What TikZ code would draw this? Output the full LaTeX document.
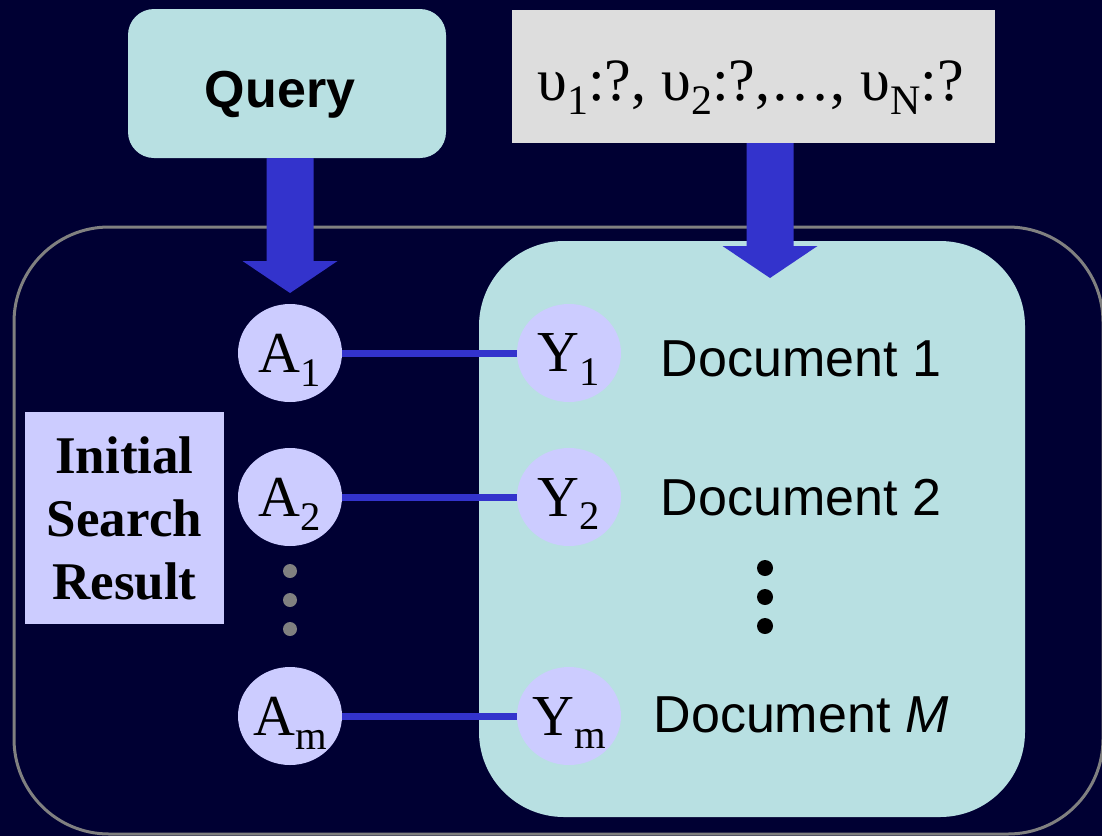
\documentclass[tikz,border=0pt]{standalone}
\usepackage{fontspec}
\setmainfont{Liberation Serif}
\setsansfont{Liberation Sans}
\usetikzlibrary{shapes.geometric,calc}

\definecolor{navy}{RGB}{0,0,51}
\definecolor{paleteal}{RGB}{184,224,226}
\definecolor{lavender}{RGB}{204,204,255}
\definecolor{linkblue}{RGB}{51,51,204}
\definecolor{boxgray}{RGB}{221,221,221}
\definecolor{rimgray}{RGB}{128,128,128}

% lowered, shrunk index
\newcommand{\lsub}[1]{\raisebox{-0.24em}[0pt][0pt]{\scalebox{0.7}{#1}}}
% wide block arrow straight down from #1 to the tip #2
\newcommand{\fatarrow}[2]{%
  \fill[linkblue] let \p1=(#1), \p2=(#2) in
    (\x2-23.5pt,\y1) -- (\x2+23.5pt,\y1) -- (\x2+23.5pt,\y2+32pt) -- (\x2+47.5pt,\y2+32pt)
    -- (\x2,\y2) -- (\x2-47.5pt,\y2+32pt) -- (\x2-23.5pt,\y2+32pt) -- cycle;}

\begin{document}
\begin{tikzpicture}[x=1pt,y=-1pt,
  blob/.style={ellipse,fill=lavender,minimum width=104pt,minimum height=98pt,inner sep=0pt,
    font=\fontsize{58}{58}\selectfont},
  doclabel/.style={anchor=base,font=\sffamily\fontsize{52}{52}\selectfont},
  wire/.style={linkblue,line width=7pt}]
  \useasboundingbox (0,0) rectangle (1102,836);
  \fill[navy] (0,0) rectangle (1102,836);
  \draw[rimgray,line width=3pt,rounded corners=95pt] (14,227) rectangle (1103,834);
  \fill[paleteal,rounded corners=85pt] (479,241) rectangle (1025,817);

  \node[fill=boxgray,minimum width=483pt,minimum height=133pt,text height=47pt,text depth=0pt,
    font=\fontsize{60}{60}\selectfont] (unknowns) at (753.5,76.5)
    {υ\lsub{1}:?, υ\lsub{2}:?,…, υ\lsub{N}:?\hspace*{6pt}};
  \node[fill=paleteal,rounded corners=26pt,minimum width=318pt,minimum height=149pt,
    text height=47pt,text depth=0pt,font=\sffamily\bfseries\fontsize{52}{52}\selectfont]
    (query) at (287,83.5) {Query\hspace*{14pt}};

  \coordinate (qtip) at (290,293);
  \coordinate (utip) at (770,278);
  \fatarrow{query.south}{qtip}
  \fatarrow{unknowns.south}{utip}

  \node[fill=lavender,minimum width=199pt,minimum height=212pt,align=center,
    font=\bfseries\fontsize{53}{63}\selectfont] (isr) at (124.5,518) {Initial\\Search\\Result};

  \foreach \r/\ry/\dy/\doc in {1/353/376/1, 2/497/515/2, m/716/732/\textit{M}} {
    \node[blob] (A\r) at (290,\ry) {A\lsub{\r}};
    \node[blob] (Y\r) at (569,\ry) {Y\lsub{\r}};
    \draw[wire] (A\r) -- (Y\r);
    \node[doclabel] (D\r) at (801,\dy) {Document \doc};
  }
  \foreach \k in {0,1,2} {
    \fill[rimgray] (290,571+29*\k) circle (7pt);
    \fill[black] (765,568+29*\k) circle (8pt);
  }
\end{tikzpicture}
\end{document}
